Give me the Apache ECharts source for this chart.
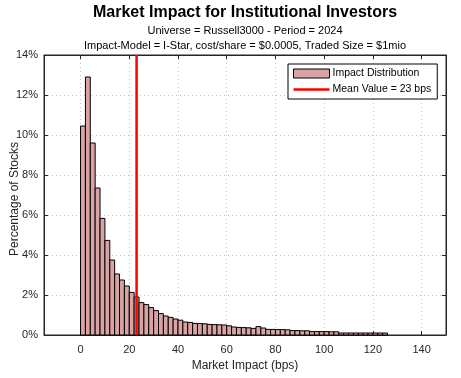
<!DOCTYPE html>
<html>
<head>
<meta charset="utf-8">
<script src="https://cdn.jsdelivr.net/npm/echarts@6/dist/echarts.min.js"></script>
<style>html,body{margin:0;padding:0;background:#fff;}#c{width:461px;height:378px;}</style>
</head>
<body>
<div id="c"></div>
<script>
// ---- data ----
const binStart = [0,2,4,6,8,10,12,14,16,18,20,22,24,26,28,30,32,34,36,38,40,42,44,46,48,50,52,54,56,58,60,62,64,66,68,70,72,74,76,78,80,82,84,86,88,90,92,94,96,98,100,102,104,106,108,110,112,114,116,118,120,122,124];
const binWidth = 2;
const pctStocks = [10.45,12.9,9.6,7.35,5.83,4.73,3.75,3.05,2.75,2.45,2.13,1.9,1.62,1.52,1.37,1.22,1.07,0.95,0.88,0.8,0.74,0.65,0.63,0.58,0.57,0.56,0.53,0.52,0.51,0.5,0.46,0.4,0.38,0.37,0.36,0.33,0.42,0.35,0.28,0.28,0.27,0.27,0.26,0.22,0.22,0.21,0.21,0.17,0.17,0.17,0.17,0.16,0.16,0.1,0.1,0.1,0.1,0.1,0.1,0.1,0.1,0.1,0.1];
const meanValue = 23;
const xTicks = [0,20,40,60,80,100,120,140];
const yTicks = [0,2,4,6,8,10,12,14];
const titleText = 'Market Impact for Institutional Investors';
const subLine1 = 'Universe = Russell3000 - Period = 2024';
const subLine2 = 'Impact-Model = I-Star, cost/share = $0.0005, Traded Size = $1mio';
const seriesNames = ['Impact Distribution', 'Mean Value = ' + meanValue + ' bps'];

const FONT = '"Liberation Sans", Arial, sans-serif';
const AX = '#262626';
const BAR = '#d9a3a3';
const gridLine = {show: true, lineStyle: {color: '#c4c4c4', type: [1, 3], width: 1}};

const chart = echarts.init(document.getElementById('c'), null, {renderer: 'canvas'});
chart.setOption({
  animation: false,
  backgroundColor: '#fff',
  textStyle: {fontFamily: FONT},
  title: [
    {text: titleText, left: 245, top: 5, textAlign: 'center', padding: 0,
     textStyle: {fontFamily: FONT, fontSize: 16, fontWeight: 'bold', color: '#000'}},
    {text: subLine1, left: 245, top: 25, textAlign: 'center', padding: 0,
     textStyle: {fontFamily: FONT, fontSize: 11, fontWeight: 'normal', color: '#000'}},
    {text: subLine2, left: 245, top: 40, textAlign: 'center', padding: 0,
     textStyle: {fontFamily: FONT, fontSize: 11, fontWeight: 'normal', color: '#000'}}
  ],
  legend: {
    orient: 'vertical', left: 288, top: 64,
    itemWidth: 36, itemHeight: 9, itemGap: 5,
    padding: [4, 6, 4, 5],
    borderColor: '#000', borderWidth: 1, backgroundColor: '#fff',
    textStyle: {fontFamily: FONT, fontSize: 10.5, color: '#000', padding: [0, 0, 0, -2]},
    data: [
      {name: seriesNames[0], icon: 'rect', itemStyle: {color: BAR, borderColor: '#000', borderWidth: 1}},
      {name: seriesNames[1], icon: 'path://M0,0L40,0L40,3L0,3Z', itemStyle: {color: '#ff0000', borderWidth: 0}}
    ]
  },
  grid: {left: 44, right: 15, top: 55, bottom: 43, show: true, borderColor: AX, borderWidth: 1,
         backgroundColor: 'transparent', containLabel: false, outerBoundsMode: 'none'},
  xAxis: [
    {type: 'value', min: -15, max: 150, position: 'bottom',
     name: 'Market Impact (bps)', nameLocation: 'middle', nameGap: 25, nameMoveOverlap: false,
     nameTextStyle: {fontFamily: FONT, fontSize: 12, color: AX},
     axisLine: {show: true, onZero: false, lineStyle: {color: AX}},
     axisTick: {show: true, inside: true, length: 4, customValues: xTicks, lineStyle: {color: AX}},
     axisLabel: {customValues: xTicks, fontFamily: FONT, fontSize: 11, color: AX, margin: 9},
     splitLine: gridLine},
    {type: 'value', min: -15, max: 150, position: 'top',
     axisLine: {show: true, onZero: false, lineStyle: {color: AX}},
     axisTick: {show: true, inside: true, length: 4, customValues: xTicks, lineStyle: {color: AX}},
     axisLabel: {show: false}, splitLine: {show: false}}
  ],
  yAxis: [
    {type: 'value', min: 0, max: 14, interval: 2, position: 'left',
     name: 'Percentage of Stocks', nameLocation: 'middle', nameGap: 23, nameMoveOverlap: false,
     nameTextStyle: {fontFamily: FONT, fontSize: 12, color: AX, padding: [0, 8, 0, 0]},
     axisLine: {show: true, onZero: false, lineStyle: {color: AX}},
     axisTick: {show: true, inside: true, length: 4, lineStyle: {color: AX}},
     axisLabel: {formatter: '{value}%', fontFamily: FONT, fontSize: 11, color: AX, margin: 6},
     splitLine: gridLine},
    {type: 'value', min: 0, max: 14, interval: 2, position: 'right',
     axisLine: {show: true, onZero: false, lineStyle: {color: AX}},
     axisTick: {show: true, inside: true, length: 4, lineStyle: {color: AX}},
     axisLabel: {show: false}, splitLine: {show: false}}
  ],
  series: [
    {
      type: 'custom', name: seriesNames[0], xAxisIndex: 0, yAxisIndex: 0,
      data: binStart.map((b, i) => [b, b + binWidth, pctStocks[i]]),
      encode: {x: [0, 1], y: 2},
      itemStyle: {color: BAR, borderColor: '#000', borderWidth: 1},
      renderItem: function (params, api) {
        const p0 = api.coord([api.value(0), api.value(2)]);
        const p1 = api.coord([api.value(1), 0]);
        return {type: 'rect',
          shape: {x: p0[0], y: p0[1], width: p1[0] - p0[0], height: p1[1] - p0[1]},
          style: {fill: BAR, stroke: '#000', lineWidth: 1}};
      },
      z: 2
    },
    {
      type: 'line', name: seriesNames[1], xAxisIndex: 0, yAxisIndex: 0,
      data: [[meanValue, 0], [meanValue, 14]],
      symbol: 'none', lineStyle: {color: '#ff0000', width: 2.5}, itemStyle: {color: '#ff0000'},
      z: 3
    }
  ]
});
</script>
</body>
</html>
